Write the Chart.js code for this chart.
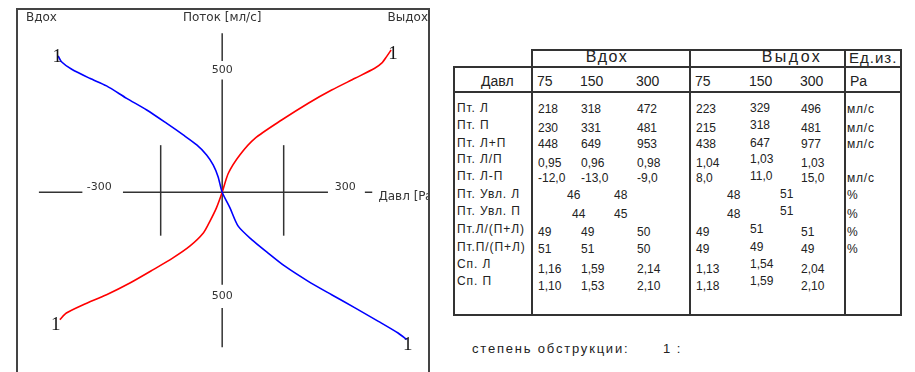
<!DOCTYPE html>
<html><head><meta charset="utf-8">
<script src="https://cdn.jsdelivr.net/npm/chart.js@4.4.1/dist/chart.umd.min.js"></script>
<style>
html,body{margin:0;padding:0;background:#fff;width:915px;height:372px;overflow:hidden;position:relative;font-family:"Liberation Sans",Arial,sans-serif;color:#222;}
#box{position:absolute;left:16px;top:8px;width:410px;height:370px;border:2px solid #444;}
#box canvas{position:absolute;left:0;top:0;}
.ln{position:absolute;background:#333;}
.t{position:absolute;white-space:nowrap;line-height:1;}
</style></head><body>
<div id="box"><canvas id="c" width="410" height="365"></canvas></div>
<div id="tbl"></div>
<script>
// ---------- DATA ----------
// Flow curves (pressure Pa, flow ml/s)
const inhalePressure = [-400,-392,-367,-323,-282,-233,-184,-136,-95,-62,-38,-22,-10,0,19,39,72,112,153,210,267,324,381,429,450];
const inhaleFlow     = [559,535,504,467,436,385,337,283,235,194,153,112,64,0,-64,-139,-194,-249,-303,-365,-420,-474,-529,-577,-604];
const exhalePressure = [-396,-380,-339,-282,-225,-168,-120,-79,-46,-30,-14,0,15,43,80,145,210,267,324,372,389,401,412];
const exhaleFlow     = [-522,-495,-461,-420,-372,-317,-269,-221,-167,-119,-64,0,78,153,221,296,365,419,467,508,529,556,583];
const curveLabel = '1';
const axisTitleTopLeft = 'Вдох';
const axisTitleTop = 'Поток [мл/с]';
const axisTitleTopRight = 'Выдох';
const axisTitleRight = 'Давл [Pa]';
const xTickLabels = ['-300','300'];
const xTickValues = [-300,300];
const yTickLabels = ['500','500'];

// Table
const phaseHeaders = ['Вдох','Выдох'];
const unitHeader = 'Ед.из.';
const pressureHeader = 'Давл';
const pressureLevels = ['75','150','300'];
const pressureUnit = 'Pa';
const rowLabels = ['Пт. Л','Пт. П','Пт. Л+П','Пт. Л/П','Пт. Л-П','Пт. Увл. Л','Пт. Увл. П','Пт.Л/(П+Л)','Пт.П/(П+Л)','Сп. Л','Сп. П'];
const inhaleValues = [['218','318','472'],['230','331','481'],['448','649','953'],['0,95','0,96','0,98'],['-12,0','-13,0','-9,0'],['46','48'],['44','45'],['49','49','50'],['51','51','50'],['1,16','1,59','2,14'],['1,10','1,53','2,10']];
const exhaleValues = [['223','329','496'],['215','318','481'],['438','647','977'],['1,04','1,03','1,03'],['8,0','11,0','15,0'],['48','51'],['48','51'],['49','51','51'],['49','49','49'],['1,13','1,54','2,04'],['1,18','1,59','2,10']];
const rowUnits = ['мл/с','мл/с','мл/с','','мл/с','%','%','%','%','',''];
const footerLabel = 'степень обструкции:';
const footerValue = '1 :';

// ---------- CHART ----------
const pts = (xs,ys)=>xs.map((v,i)=>({x:v,y:ys[i]}));
const decor = {
  id:'decor',
  beforeDatasetsDraw(chart){
    const {ctx, scales:{x,y}, chartArea:ca} = chart;
    const X=v=>x.getPixelForValue(v), Y=v=>y.getPixelForValue(v);
    ctx.save();
    ctx.strokeStyle='#333'; ctx.lineWidth=1.5;
    const seg=(x1,y1,x2,y2)=>{ctx.beginPath();ctx.moveTo(x1,y1);ctx.lineTo(x2,y2);ctx.stroke();};
    [[-447,-341],[-242,258],[348,366]].forEach(([a,b])=>seg(X(a),Y(0),X(b),Y(0)));
    [[652,538],[462,-379],[-474,-635]].forEach(([a,b])=>seg(X(0),Y(a),X(0),Y(b)));
    [-150,150].forEach(v=>seg(X(v),Y(193),X(v),Y(-178)));
    ctx.fillStyle='#333';
    ctx.textBaseline='middle';
    ctx.textAlign='center';
    ctx.font='11px "DejaVu Sans"';
    xTickLabels.forEach((t,i)=>ctx.fillText(t,X(xTickValues[i]),Y(0)-5));
    ctx.fillText(yTickLabels[0],X(0),Y(500));
    ctx.fillText(yTickLabels[1],X(0),Y(-427));
    ctx.font='12px "DejaVu Sans"';
    ctx.fillText(axisTitleTop,X(0),ca.top+8);
    ctx.textAlign='left';
    ctx.fillText(axisTitleTopLeft,ca.left+8,ca.top+8);
    ctx.fillText(axisTitleRight,X(381),Y(0)+5);
    ctx.textAlign='right';
    ctx.fillText(axisTitleTopRight,ca.right,ca.top+8);
    ctx.restore();
  },
  afterDatasetsDraw(chart){
    const {ctx, scales:{x,y}} = chart;
    const X=v=>x.getPixelForValue(v), Y=v=>y.getPixelForValue(v);
    ctx.save();
    ctx.fillStyle='#151515';
    ctx.font='19px "Liberation Serif"';
    ctx.textAlign='center'; ctx.textBaseline='middle';
    const n1=inhalePressure.length-1, n2=exhalePressure.length-1;
    ctx.fillText(curveLabel,X(inhalePressure[0])-1,Y(inhaleFlow[0])+1);
    ctx.fillText(curveLabel,X(inhalePressure[n1])+1,Y(inhaleFlow[n1])+5);
    ctx.fillText(curveLabel,X(exhalePressure[0])-4,Y(exhaleFlow[0])+5);
    ctx.fillText(curveLabel,X(exhalePressure[n2])+2,Y(exhaleFlow[n2])+4);
    ctx.restore();
  }
};
new Chart(document.getElementById('c'),{
  type:'scatter',
  data:{datasets:[
    {label:'Вдох',data:pts(inhalePressure,inhaleFlow),showLine:true,borderColor:'#0000ff',borderWidth:1.6,pointRadius:0,tension:0.25,fill:false},
    {label:'Выдох',data:pts(exhalePressure,exhaleFlow),showLine:true,borderColor:'#ff0000',borderWidth:1.6,pointRadius:0,tension:0.25,fill:false}
  ]},
  options:{
    responsive:false,animation:false,devicePixelRatio:1,
    layout:{padding:0},
    plugins:{legend:{display:false},tooltip:{enabled:false}},
    scales:{
      x:{type:'linear',min:-498,max:502,display:false},
      y:{type:'linear',min:-749,max:747,display:false}
    }
  },
  plugins:[decor]
});

// ---------- TABLE ----------
const tbl=document.getElementById('tbl');
const L=(x,y,w,h)=>{const d=document.createElement('div');d.className='ln';Object.assign(d.style,{left:x+'px',top:y+'px',width:w+'px',height:h+'px'});tbl.appendChild(d);};
const T=(txt,x,cy,fs,o={})=>{const d=document.createElement('div');d.className='t';d.textContent=txt;
  const tx=o.center?'-50%':'0';
  Object.assign(d.style,{left:x+'px',top:cy+'px',fontSize:fs+'px',letterSpacing:(o.ls||0)+'px',transform:`translate(${tx},-50%)`});
  tbl.appendChild(d);};
L(531,49,371,2); L(453,66,449,2); L(453,91,449,2); L(453,314,449,2);
L(453,66,2,250); L(531,49,2,267); L(689,49,2,267); L(844,49,2,267); L(900,49,2,267);
T(phaseHeaders[0],607,57,16,{center:true,ls:1.5});
T(phaseHeaders[1],792,57,16,{center:true,ls:2.5});
T(unitHeader,849,57,15,{ls:1});
T(pressureHeader,481,81,14);
const inhX=[537,580,636], exhX=[695,749,800];
pressureLevels.forEach((p,i)=>{T(p,inhX[i],81,14);T(p,exhX[i],81,14);});
T(pressureUnit,850,81,14);
const rowY=[108,125,143,159,176,194,211,229,247,264,281];
const valDY=[1,3,1,4,2,1,3,3,2,5,5];
rowLabels.forEach((lab,r)=>{
  T(lab,457,rowY[r],12,{ls:0.9});
  const iv=inhaleValues[r], ev=exhaleValues[r];
  if(iv.length===3){iv.forEach((v,c)=>T(v,inhX[c]+1,rowY[r]+valDY[r],12));}
  else {const xs=r===5?[567,614]:[572,614]; iv.forEach((v,c)=>T(v,xs[c],rowY[r]+valDY[r],12));}
  if(ev.length===3){ev.forEach((v,c)=>T(v,exhX[c]+1,rowY[r]+(c===1?0:valDY[r]),12));}
  else {[727,780].forEach((xx,c)=>T(ev[c],xx,rowY[r]+(c===1?0:valDY[r]),12));}
  if(rowUnits[r]) T(rowUnits[r],847,rowY[r]+valDY[r],12,{ls:0.8});
});
T(footerLabel,472,348,13,{ls:1.8});
T(footerValue,663,348,13,{ls:1.5});
</script>
</body></html>
